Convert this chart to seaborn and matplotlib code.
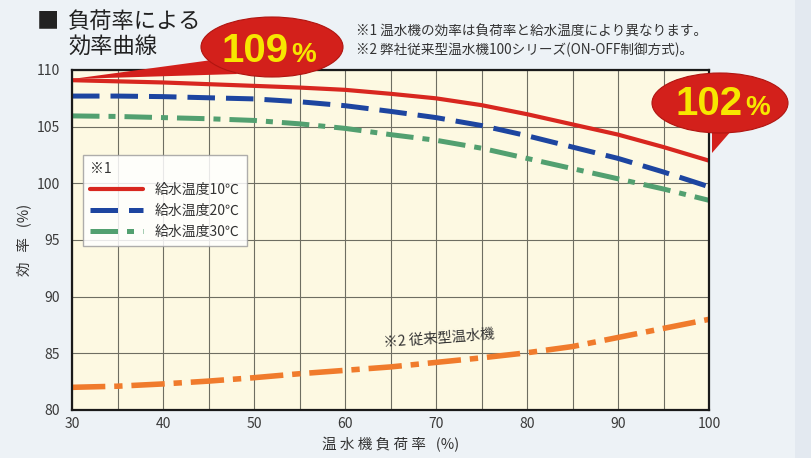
import numpy as np
import pandas as pd
import matplotlib
matplotlib.use("Agg")
import matplotlib.pyplot as plt
from matplotlib.patches import Ellipse, Polygon, Rectangle
import seaborn as sns

# ---- data -------------------------------------------------------------
load_rate = [30, 35, 40, 45, 50, 55, 60, 65, 70, 75, 80, 85, 90, 95, 100]
eff_10c = [109.1, 109.0, 108.9, 108.75, 108.6, 108.45, 108.25, 107.9, 107.5, 106.9, 106.1, 105.2, 104.3, 103.2, 102.0]
eff_20c = [107.7, 107.7, 107.65, 107.55, 107.45, 107.2, 106.85, 106.35, 105.8, 105.1, 104.2, 103.2, 102.2, 101.0, 99.7]
eff_30c = [105.95, 105.9, 105.8, 105.7, 105.55, 105.25, 104.85, 104.3, 103.8, 103.1, 102.2, 101.3, 100.4, 99.5, 98.5]
eff_old = [82.0, 82.1, 82.3, 82.55, 82.85, 83.2, 83.5, 83.8, 84.2, 84.6, 85.05, 85.6, 86.4, 87.2, 88.0]

series_labels = ["給水温度10℃", "給水温度20℃", "給水温度30℃"]
old_label = "※2 従来型温水機"
x_ticks = [30, 40, 50, 60, 70, 80, 90, 100]
y_ticks = [80, 85, 90, 95, 100, 105, 110]
callout_start = "109"
callout_end = "102"

# ---- style ------------------------------------------------------------
sns.set_theme(style="white")
plt.rcParams["font.family"] = ["Noto Sans CJK JP", "DejaVu Sans"]

W, H = 811, 458
fig = plt.figure(figsize=(W / 100, H / 100), dpi=100, facecolor="#edf2f6")


def fx(px):
    return px / W


def fy(py):
    return 1 - py / H


# light strip at the right edge of the page
fig.add_artist(Rectangle((fx(795), 0), 1 - fx(795), 1, transform=fig.transFigure,
                         facecolor="#e3e9f0", edgecolor="none", zorder=0))

ax = fig.add_axes([fx(72), fy(410), fx(709) - fx(72), fy(70) - fy(410)])
ax.set_facecolor("#fdf9e2")

red, blue, green, orange = "#d8271f", "#1d45a0", "#52a070", "#f07b2c"

sns.lineplot(x=load_rate, y=eff_10c, ax=ax, color=red, linewidth=3.0,
             label=series_labels[0], zorder=5)
sns.lineplot(x=load_rate, y=eff_20c, ax=ax, color=blue, linewidth=3.6,
             linestyle=(0, (5.5, 2.2)), label=series_labels[1], zorder=5)
sns.lineplot(x=load_rate, y=eff_30c, ax=ax, color=green, linewidth=3.6,
             linestyle=(0, (5.5, 1.8, 1.4, 1.8)), label=series_labels[2], zorder=5)
sns.lineplot(x=load_rate, y=eff_old, ax=ax, color=orange, linewidth=4.0,
             linestyle=(0, (6.0, 1.6, 1.5, 1.6)), legend=False, zorder=5)

ax.set_xlim(30, 100)
ax.set_ylim(80, 110)
ax.set_xticks(x_ticks)
ax.set_xticks(np.arange(35, 100, 10), minor=True)
ax.set_yticks(y_ticks)
ax.set_xticklabels([str(v) for v in x_ticks])
ax.set_yticklabels([str(v) for v in y_ticks])
ax.grid(True, which="both", color="#6e6e62", linewidth=0.8)
ax.set_axisbelow(True)
ax.tick_params(axis="both", which="both", length=0, labelsize=10, colors="#3a3a3a")
ax.tick_params(axis="x", pad=5)
ax.tick_params(axis="y", pad=9)
for sp in ax.spines.values():
    sp.set_color("#1a1a1a")
    sp.set_linewidth(1.6)
    sp.set_zorder(6)

ax.set_xlabel("温 水 機 負 荷 率   (%)", fontsize=10.5, color="#333333", labelpad=4)
ax.set_ylabel("効   率   (%)", fontsize=10.5, color="#333333", labelpad=4)

leg = ax.legend(title="※1", loc="upper left", bbox_to_anchor=(0.017, 0.75),
                borderaxespad=0, fontsize=10, title_fontsize=10, alignment="left",
                handlelength=3.8, labelspacing=0.5, frameon=True, fancybox=False,
                borderpad=0.5, handletextpad=0.9)
leg.get_frame().set_facecolor("#ffffff")
leg.get_frame().set_alpha(0.85)
leg.get_frame().set_edgecolor("#a0a0a0")
leg.get_frame().set_linewidth(1.0)
leg.set_zorder(7)
for t in leg.get_texts():
    t.set_color("#333333")
leg.get_title().set_color("#333333")

ax.text(64.2, 85.3, old_label, rotation=4.5, fontsize=10.3, color="#333333",
        ha="left", va="bottom", zorder=6)

# ---- headings ----------------------------------------------------------
fig.text(fx(37), fy(21), "■", fontsize=16, color="#222222", va="center", ha="left")
fig.text(fx(68), fy(21), "負荷率による", fontsize=16, color="#222222", va="center", ha="left")
fig.text(fx(68), fy(46), "効率曲線", fontsize=16, color="#222222", va="center", ha="left")
fig.text(fx(356), fy(32), "※1 温水機の効率は負荷率と給水温度により異なります。",
         fontsize=9.8, color="#333333", va="center", ha="left")
fig.text(fx(356), fy(50), "※2 弊社従来型温水機100シリーズ(ON-OFF制御方式)。",
         fontsize=9.8, color="#333333", va="center", ha="left")

# ---- callout bubbles ---------------------------------------------------
bubble_red = "#d3201b"
yellow = "#f7e600"


def bubble(cx, cy, w, h, tail, value, text_right, baseline):
    fig.add_artist(Polygon([(fx(px), fy(py)) for px, py in tail], closed=True,
                           transform=fig.transFigure, facecolor=bubble_red,
                           edgecolor="none", zorder=20))
    fig.add_artist(Ellipse((fx(cx), fy(cy)), w / W, h / H, transform=fig.transFigure,
                           facecolor=bubble_red, edgecolor="#b01510", linewidth=0.8,
                           zorder=21))
    fig.text(fx(text_right), fy(baseline), value, fontsize=29, fontweight="bold",
             family="Liberation Sans", color=yellow, ha="right", va="baseline", zorder=22)
    fig.text(fx(text_right + 2), fy(baseline), "%", fontsize=20, fontweight="bold",
             family="Liberation Sans", color=yellow, ha="left", va="baseline", zorder=22)


bubble(272, 47, 142, 60, [(72, 79), (212, 60), (238, 74)], callout_start, 289, 62)
bubble(720, 103, 136, 60, [(712, 153), (712, 126), (732, 130)], callout_end, 743, 115)

fig.savefig("out.png", dpi=100, facecolor=fig.get_facecolor())
